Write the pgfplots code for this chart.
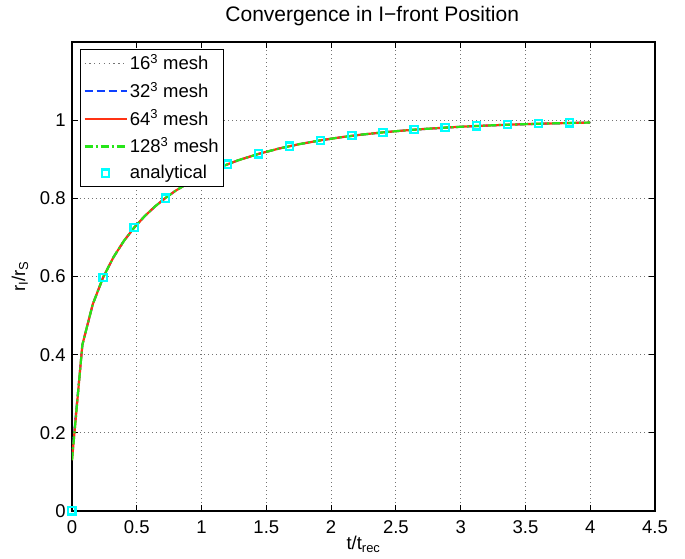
\documentclass[border=0pt]{standalone}
\usepackage{fontspec}
\setmainfont{Liberation Sans}
\usepackage{pgfplots}
\usepackage{pgfplotstable}
\pgfplotsset{compat=1.18}

\definecolor{meshgray}{rgb}{0.45,0.45,0.45}
\definecolor{meshblue}{rgb}{0.05,0.25,1.0}
\definecolor{meshred}{rgb}{1.0,0.2,0.08}
\definecolor{meshgreen}{rgb}{0.15,0.9,0.1}
\definecolor{anacyan}{rgb}{0.0,1.0,1.0}

\pgfplotsset{
  meshkey/.style={legend image code/.code={\draw[##1] (0pt,0pt) -- (42pt,0pt);}},
  anakey/.style={legend image code/.code={\draw[mark repeat=2, mark phase=2, ##1] plot coordinates {(0pt,0pt) (21pt,0pt) (42pt,0pt)};}},
}

% I-front radius r_I/r_S against t/t_rec from the runs
\pgfplotstableread{
t     r16    r32    r64    r128
0.00  0.150  0.140  0.130  0.130
0.08  0.4245 0.4250 0.4252 0.4252
0.16  0.5282 0.5286 0.5288 0.5288
0.24  0.5970 0.5974 0.5976 0.5976
0.32  0.6489 0.6492 0.6494 0.6494
0.40  0.6903 0.6906 0.6908 0.6908
0.48  0.7247 0.7250 0.7251 0.7251
0.56  0.7537 0.7540 0.7541 0.7541
0.64  0.7787 0.7789 0.7790 0.7790
0.72  0.8003 0.8005 0.8006 0.8006
0.80  0.8193 0.8195 0.8196 0.8196
0.96  0.8511 0.8513 0.8514 0.8514
1.12  0.8764 0.8766 0.8767 0.8767
1.28  0.8969 0.8970 0.8971 0.8971
1.44  0.9136 0.9137 0.9138 0.9138
1.60  0.9274 0.9275 0.9276 0.9276
1.76  0.9388 0.9389 0.9390 0.9390
1.92  0.9483 0.9484 0.9485 0.9485
2.08  0.9563 0.9564 0.9565 0.9565
2.24  0.9630 0.9631 0.9632 0.9632
2.40  0.9686 0.9687 0.9688 0.9688
2.56  0.9733 0.9734 0.9735 0.9735
2.72  0.9773 0.9774 0.9775 0.9775
2.88  0.9807 0.9808 0.9809 0.9809
3.04  0.9836 0.9837 0.9838 0.9838
3.20  0.9860 0.9861 0.9862 0.9862
3.36  0.9881 0.9882 0.9883 0.9883
3.52  0.9898 0.9899 0.9900 0.9900
3.68  0.9913 0.9914 0.9915 0.9915
3.84  0.9926 0.9927 0.9928 0.9928
4.00  0.9937 0.9938 0.9939 0.9939
}\runs

% analytical Stromgren solution
\pgfplotstableread{
t     r
0.00  0.0000
0.24  0.5976
0.48  0.7251
0.72  0.8006
0.96  0.8514
1.20  0.8874
1.44  0.9138
1.68  0.9336
1.92  0.9485
2.16  0.9600
2.40  0.9688
2.64  0.9756
2.88  0.9809
3.12  0.9851
3.36  0.9883
3.60  0.9908
3.84  0.9928
}\analytic

\begin{document}
\fontsize{18.5}{22}\selectfont
\begin{tikzpicture}
\path[use as bounding box] (-72pt,-48pt) rectangle (613pt,511pt);
\begin{axis}[
  at={(0pt,0pt)}, anchor=south west,
  scale only axis, width=583pt, height=469pt,
  xmin=0, xmax=4.5, ymin=0, ymax=1.2,
  xtick={0,0.5,1,1.5,2,2.5,3,3.5,4,4.5},
  ytick={0,0.2,0.4,0.6,0.8,1},
  /pgf/number format/assume math mode=true,
  tick label style={font=\fontsize{18.5}{22}\selectfont},
  xticklabel style={yshift=-3pt},
  axis line style={line width=1.2pt},
  tick style={line width=0.9pt, black},
  tick align=inside, major tick length=6pt,
  grid=major,
  major grid style={line width=0.8pt, black!55, dash pattern=on 0.8pt off 3.2pt},
  title={Convergence in I−front Position},
  title style={at={(axis description cs:0.515,1.0299)}, anchor=base, font=\fontsize{21}{25}\selectfont},
  xlabel={t/t\textsubscript{rec}},
  xlabel style={at={(axis description cs:0.5,-0.083)}, anchor=base},
  ylabel={r\textsubscript{I}/r\textsubscript{S}},
  ylabel style={at={(axis description cs:-0.0806,0.5)}, anchor=base},
  legend style={at={(axis description cs:0,1)}, anchor=north west,
    xshift=8pt, yshift=-7pt, draw=black, line width=1.2pt, fill=white,
    font=\fontsize{18.5}{22}\selectfont, inner sep=3pt,
    row sep=5.5pt, cells={anchor=west}},
  legend cell align=left,
]
\addplot[meshgray, line width=1.6pt, dash pattern=on 1.2pt off 3.6pt, meshkey] table[x=t, y=r16] {\runs};
\addlegendentry{16\textsuperscript{3} mesh}
\addplot[meshblue, line width=2pt, dash pattern=on 8pt off 4pt, meshkey] table[x=t, y=r32] {\runs};
\addlegendentry{32\textsuperscript{3} mesh}
\addplot[meshred, line width=2.2pt, meshkey] table[x=t, y=r64] {\runs};
\addlegendentry{64\textsuperscript{3} mesh}
\addplot[meshgreen, line width=2.2pt, dash pattern=on 8pt off 3pt on 2pt off 3pt, meshkey] table[x=t, y=r128] {\runs};
\addlegendentry{128\textsuperscript{3} mesh}
\addplot[only marks, mark=square, mark size=3.6pt, anacyan, mark options={line width=2.2pt}, anakey]
  table[x=t, y=r] {\analytic};
\addlegendentry{analytical}
\end{axis}
\end{tikzpicture}
\end{document}
